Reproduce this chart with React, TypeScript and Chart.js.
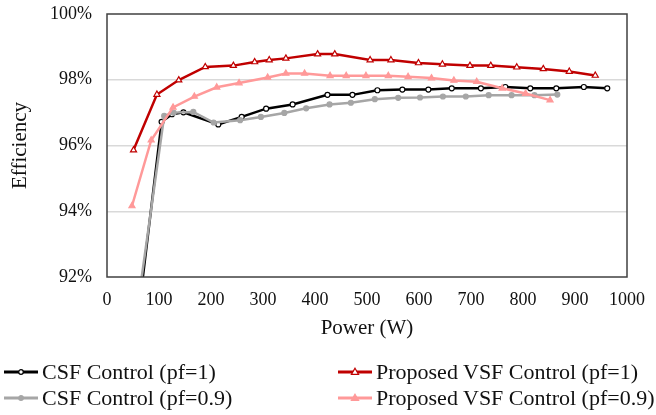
import React, { useEffect, useRef } from "react";
import { Chart, registerables } from "chart.js";

Chart.register(...registerables);

// Power (W) / Efficiency (%)
const csfPf1X = [50, 105, 125, 147, 214, 259, 306, 357, 424, 472, 520, 568, 618, 663, 719, 766, 814, 864, 917, 962];
const csfPf1Y = [89.5, 96.72, 96.95, 97.01, 96.64, 96.87, 97.12, 97.25, 97.54, 97.54, 97.68, 97.7, 97.7, 97.74, 97.74, 97.78, 97.74, 97.74, 97.78, 97.74];

const vsfPf1X = [51, 96, 138, 189, 243, 284, 312, 344, 405, 438, 506, 546, 599, 645, 698, 738, 788, 839, 889, 939];
const vsfPf1Y = [95.86, 97.55, 97.99, 98.39, 98.43, 98.54, 98.6, 98.65, 98.78, 98.78, 98.6, 98.6, 98.51, 98.47, 98.43, 98.43, 98.38, 98.33, 98.25, 98.13];

const csfPf09X = [50, 110, 128, 166, 205, 256, 296, 341, 383, 428, 469, 515, 560, 602, 646, 690, 734, 778, 822, 866];
const csfPf09Y = [90.1, 96.9, 97.0, 97.02, 96.7, 96.77, 96.87, 96.99, 97.13, 97.25, 97.3, 97.41, 97.45, 97.46, 97.49, 97.49, 97.53, 97.53, 97.53, 97.55];

const vsfPf09X = [48, 85, 127, 168, 211, 254, 309, 344, 380, 429, 460, 498, 541, 579, 624, 667, 711, 760, 805, 852];
const vsfPf09Y = [94.16, 96.16, 97.16, 97.49, 97.77, 97.9, 98.07, 98.19, 98.19, 98.12, 98.12, 98.12, 98.12, 98.09, 98.05, 97.98, 97.94, 97.74, 97.58, 97.38];

const seriesNames = [
  "CSF Control (pf=1)",
  "Proposed VSF Control (pf=1)",
  "CSF Control (pf=0.9)",
  "Proposed VSF Control (pf=0.9)",
];

const xTicks = [0, 100, 200, 300, 400, 500, 600, 700, 800, 900, 1000];
const yTicks = [92, 94, 96, 98, 100];

const FONT = "'Liberation Serif', 'Times New Roman', serif";

const toPoints = (xs: number[], ys: number[]) => xs.map((x, i) => ({ x, y: ys[i] }));

const styles = [
  { color: "#000000", fill: "#ffffff", shape: "circle", radius: 2.5 },
  { color: "#C00000", fill: "#ffffff", shape: "triangle", radius: 3.5 },
  { color: "#A6A6A6", fill: "#A6A6A6", shape: "circle", radius: 2.5 },
  { color: "#FF9999", fill: "#FF9999", shape: "triangle", radius: 3.5 },
];

const framePlugin = {
  id: "frame",
  afterDatasetsDraw(chart: any) {
    const { ctx, chartArea } = chart;
    ctx.save();
    ctx.strokeStyle = "#404040";
    ctx.lineWidth = 1.5;
    ctx.strokeRect(chartArea.left, chartArea.top, chartArea.right - chartArea.left, chartArea.bottom - chartArea.top);
    ctx.restore();
  },
};

function LegendMarker({ idx }: { idx: number }) {
  const s = styles[idx];
  return (
    <svg width={34} height={12} style={{ display: "block" }}>
      <line x1={0} y1={6} x2={34} y2={6} stroke={s.color} strokeWidth={3} />
      {s.shape === "circle" ? (
        <circle cx={17} cy={6} r={2.3} fill={s.fill} stroke={s.color} strokeWidth={1.2} />
      ) : (
        <polygon points="17,2.2 20.6,8.4 13.4,8.4" fill={s.fill} stroke={s.color} strokeWidth={1.2} />
      )}
    </svg>
  );
}

export default function App() {
  const ref = useRef<HTMLCanvasElement>(null);

  useEffect(() => {
    if (!ref.current) return;
    const data = [
      toPoints(csfPf1X, csfPf1Y),
      toPoints(vsfPf1X, vsfPf1Y),
      toPoints(csfPf09X, csfPf09Y),
      toPoints(vsfPf09X, vsfPf09Y),
    ];
    const orders = [4, 3, 2, 1];
    const chart = new Chart(ref.current, {
      type: "line",
      data: {
        datasets: data.map((d, i) => ({
          label: seriesNames[i],
          data: d,
          borderColor: styles[i].color,
          backgroundColor: styles[i].fill,
          borderWidth: 2.5,
          pointStyle: styles[i].shape,
          pointRadius: styles[i].radius,
          pointBorderWidth: 1.2,
          pointBorderColor: styles[i].color,
          pointBackgroundColor: styles[i].fill,
          tension: 0,
          order: orders[i],
        })),
      },
      options: {
        responsive: false,
        animation: false,
        layout: { padding: { left: 0, top: 14, right: 29, bottom: 70 } },
        plugins: { legend: { display: false }, tooltip: { enabled: false } },
        scales: {
          x: {
            type: "linear",
            min: 0,
            max: 1000,
            afterBuildTicks: (scale: any) => {
              scale.ticks = xTicks.map((v) => ({ value: v }));
            },
            afterFit: (scale: any) => {
              scale.height = 68;
              scale.paddingLeft = 0;
              scale.paddingRight = 0;
            },
            grid: { display: false, drawTicks: false },
            border: { display: false },
            ticks: {
              padding: 12,
              color: "#111",
              font: { family: FONT, size: 18 },
              maxRotation: 0,
              callback: (v: any) => String(v),
            },
            title: {
              display: true,
              text: "Power (W)",
              color: "#111",
              font: { family: FONT, size: 21 },
              padding: { top: 0, bottom: 4 },
            },
          },
          y: {
            type: "linear",
            min: 92,
            max: 100,
            afterBuildTicks: (scale: any) => {
              scale.ticks = yTicks.map((v) => ({ value: v }));
            },
            afterFit: (scale: any) => {
              scale.width = 107;
              scale.paddingTop = 0;
              scale.paddingBottom = 0;
            },
            grid: {
              drawTicks: false,
              lineWidth: 1.5,
              color: (c: any) => (c.tick && (c.tick.value === 92 || c.tick.value === 100) ? "rgba(0,0,0,0)" : "#D9D9D9"),
            },
            border: { display: false },
            ticks: {
              padding: 15,
              color: "#111",
              font: { family: FONT, size: 18 },
              callback: (v: any) => `${v}%`,
            },
            title: {
              display: true,
              text: "Efficiency",
              color: "#111",
              font: { family: FONT, size: 21 },
              padding: { top: 8, bottom: 0 },
            },
          },
        },
      },
      plugins: [framePlugin],
    });
    return () => chart.destroy();
  }, []);

  const legendPos = [
    { left: 4, top: 372 },
    { left: 338, top: 372 },
    { left: 4, top: 398 },
    { left: 338, top: 398 },
  ];

  return (
    <div style={{ position: "absolute", left: 0, top: 0, width: 656, height: 415, background: "#fff" }}>
      <canvas ref={ref} width={656} height={415} style={{ position: "absolute", left: 0, top: 0 }} />
      {seriesNames.map((name, i) => (
        <div
          key={name}
          style={{
            position: "absolute",
            left: legendPos[i].left,
            top: legendPos[i].top - 13,
            height: 26,
            display: "flex",
            alignItems: "center",
            fontFamily: FONT,
            fontSize: 22,
            color: "#111",
            whiteSpace: "nowrap",
          }}
        >
          <LegendMarker idx={i} />
          <span style={{ marginLeft: 4 }}>{name}</span>
        </div>
      ))}
    </div>
  );
}
